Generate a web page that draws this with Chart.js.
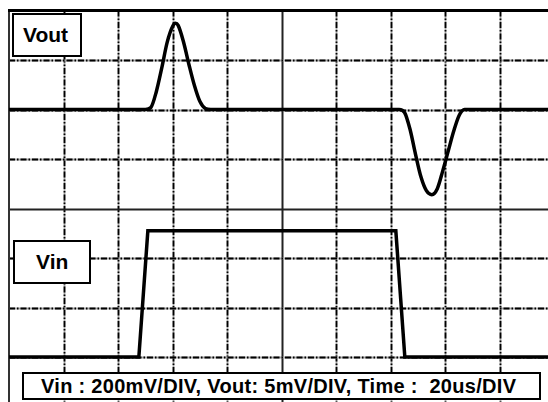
<!DOCTYPE html>
<html>
<head>
<meta charset="utf-8">
<script src="https://cdn.jsdelivr.net/npm/chart.js@4"></script>
<style>
  html, body { margin: 0; padding: 0; background: #fff; overflow: hidden; }
  #wrap { position: relative; width: 560px; height: 412px; }
  .lbl {
    position: absolute; box-sizing: border-box; background: #fff;
    border: 2px solid #000; font-family: "Liberation Sans", Arial, sans-serif;
    font-weight: bold; color: #000; display: flex; align-items: center;
  }
</style>
</head>
<body>
<div id="wrap">
  <canvas id="scope"></canvas>
  <div class="lbl" style="left:12px;top:13px;width:70px;height:44px;font-size:21px;padding-left:9px;">Vout</div>
  <div class="lbl" style="left:13px;top:240px;width:78px;height:44px;font-size:21px;padding-left:21px;">Vin</div>
  <div class="lbl" style="left:22px;top:372px;width:519px;height:28px;font-size:20px;letter-spacing:0.3px;padding-left:17px;white-space:pre;">Vin : 200mV/DIV, Vout: 5mV/DIV, Time :  20us/DIV</div>
</div>
<script>
// time axis (us), 20us/DIV
const timeTicks = [0, 20, 40, 60, 80, 100, 120, 140, 160, 180, 200];

// Vout trace (mV), 5mV/DIV
const voutTime = [0, 50, 52, 54, 56, 58, 60, 61, 62, 64, 66, 68, 70, 72, 74,
                  143, 145, 147, 149, 151, 153, 155, 157, 159, 161, 163, 165, 167, 200];
const voutMv   = [0, 0, 0.2, 1.8, 4.2, 6.8, 8.4, 8.7, 8.5, 6.8, 4.5, 2.4, 0.8, 0.1, 0,
                  0, -0.3, -2, -4.5, -6.8, -8.2, -8.6, -8, -6.2, -4.2, -2.2, -0.6, 0, 0];

// Vin trace (mV), 200mV/DIV
const vinTime = [0, 47.6, 50.9, 141.8, 145.1, 200];
const vinMv   = [0, 0, 510, 510, 0, 0];

const toXY = (xs, ys) => xs.map((x, i) => ({ x: x, y: ys[i] }));

// grid in oscilloscope style: dash-dot lines, solid centre cross
const scopeGrid = {
  id: 'scopeGrid',
  beforeDatasetsDraw(chart) {
    const { ctx, chartArea: a, scales } = chart;
    const xs = scales.x, ys = scales.y;
    const W = 548;

    function dashed(x1, y1, x2, y2) {
      ctx.save();
      ctx.lineWidth = 1.8;
      ctx.strokeStyle = '#a8a8a8';
      ctx.setLineDash([]);
      ctx.beginPath(); ctx.moveTo(x1, y1); ctx.lineTo(x2, y2); ctx.stroke();
      ctx.strokeStyle = '#000';
      ctx.setLineDash([6, 2, 1.5, 2]);
      ctx.beginPath(); ctx.moveTo(x1, y1); ctx.lineTo(x2, y2); ctx.stroke();
      ctx.restore();
    }
    function solid(x1, y1, x2, y2, w, c) {
      ctx.save();
      ctx.lineWidth = w;
      ctx.strokeStyle = c;
      ctx.beginPath(); ctx.moveTo(x1, y1); ctx.lineTo(x2, y2); ctx.stroke();
      ctx.restore();
    }

    xs.ticks.forEach(t => {
      if (t.value <= xs.min || t.value >= xs.max) return;
      const px = Math.round(xs.getPixelForValue(t.value)) + 0.5;
      if (t.value === 100) solid(px, a.top, px, a.bottom, 2, '#222');
      else dashed(px, a.top, px, a.bottom);
    });
    ys.ticks.forEach(t => {
      if (t.value <= ys.min || t.value >= ys.max) return;
      const py = Math.round(ys.getPixelForValue(t.value)) + 0.5;
      if (t.value === -10) solid(a.left, py, W, py, 2, '#222');
      else dashed(a.left, py, W, py);
    });

    // frame: thick top edge, thin left edge
    solid(a.left, a.top, a.left, a.bottom, 2, '#333');
    solid(a.left - 1, a.top, W, a.top, 3, '#000');
  }
};

new Chart(document.getElementById('scope'), {
  type: 'line',
  data: {
    datasets: [
      {
        label: 'Vout',
        data: toXY(voutTime, voutMv),
        yAxisID: 'y',
        borderColor: '#000',
        borderWidth: 3.5,
        cubicInterpolationMode: 'monotone',
        pointRadius: 0
      },
      {
        label: 'Vin',
        data: toXY(vinTime, vinMv),
        yAxisID: 'yVin',
        borderColor: '#000',
        borderWidth: 3.5,
        tension: 0,
        pointRadius: 0
      }
    ]
  },
  options: {
    responsive: true,
    maintainAspectRatio: false,
    animation: false,
    layout: { padding: { left: 9, top: 10.5, right: 5.4, bottom: 5.5 } },
    plugins: { legend: { display: false }, tooltip: { enabled: false } },
    scales: {
      x: {
        type: 'linear', display: false, min: timeTicks[0], max: timeTicks[timeTicks.length - 1],
        afterBuildTicks: s => { s.ticks = timeTicks.map(v => ({ value: v })); }
      },
      y: { type: 'linear', display: false, min: -30, max: 10, ticks: { stepSize: 5 } },
      yVin: { type: 'linear', display: false, min: -200, max: 1400, ticks: { stepSize: 200 } }
    }
  },
  plugins: [scopeGrid]
});
</script>
</body>
</html>
